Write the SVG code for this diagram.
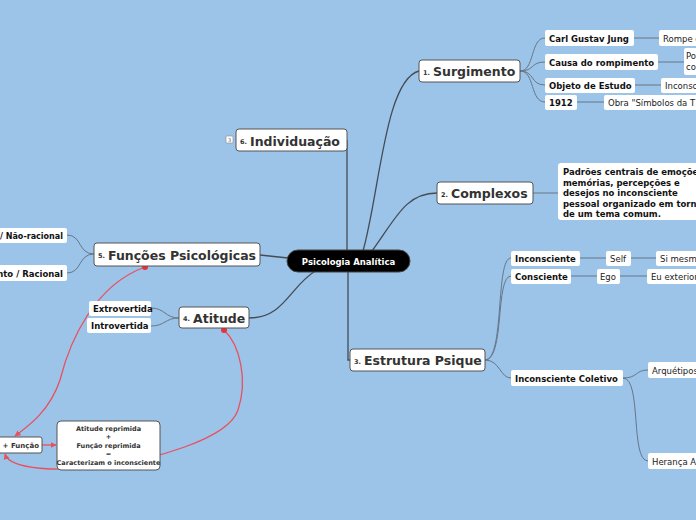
<svg xmlns="http://www.w3.org/2000/svg" width="696" height="520" viewBox="0 0 696 520">
<defs>
<style>
.bg{fill:#9cc3e8}
.main rect{fill:#fff;stroke:#555;stroke-width:1}
.num{font-family:"DejaVu Sans",sans-serif;font-size:6.5px;font-weight:bold;fill:#333}
.mt{font-family:"DejaVu Sans",sans-serif;font-size:12.5px;font-weight:bold;fill:#333}
.sub rect{fill:#fff}
.st{font-family:"DejaVu Sans",sans-serif;font-size:8.5px;font-weight:bold;fill:#111}
.nt{font-family:"DejaVu Sans",sans-serif;font-size:8.5px;fill:#222}
.c{fill:none;stroke:#667788;stroke-width:1}
.cc{fill:none;stroke:#444c55;stroke-width:1.3}
.r{fill:none;stroke:#e9505e;stroke-width:1.3}
.bt{font-family:"DejaVu Sans",sans-serif;font-size:6.5px;font-weight:bold;fill:#333;text-anchor:middle}
</style>
<marker id="ar" viewBox="0 0 10 10" refX="9" refY="5" markerWidth="6" markerHeight="6" orient="auto-start-reverse" markerUnits="userSpaceOnUse">
<path d="M0,0L10,5L0,10z" fill="#e9505e"/>
</marker>
</defs>
<rect class="bg" x="0" y="0" width="696" height="520"/>

<g id="connectors">
<path class="cc" d="M363,251 C380,190 385,80 419,71"/>
<path class="cc" d="M372,251 C395,220 405,193 437,193"/>
<path class="cc" d="M348,272 L348,360 L350,360"/>
<path class="cc" d="M347,251 L347,140"/>
<path class="cc" d="M260,255 L288,258"/>
<path class="cc" d="M317,270 C290,285 285,318 249,318"/>
<path class="c" d="M520,71 C535,71 530,38 545,38"/>
<path class="c" d="M520,71 C535,71 530,62 545,62"/>
<path class="c" d="M520,71 C535,71 530,85 545,85"/>
<path class="c" d="M520,71 C535,71 530,102 545,102"/>
<path class="c" d="M634,38 L659,38"/>
<path class="c" d="M658,62 L684,62"/>
<path class="c" d="M635,85 L661,85"/>
<path class="c" d="M577,102 L604,102"/>
<path class="c" d="M533,193 L558,193"/>
<path class="c" d="M485,360 C505,360 495,258 511,258"/>
<path class="c" d="M485,360 C505,360 495,276 511,276"/>
<path class="c" d="M485,360 C500,360 500,378 511,378"/>
<path class="c" d="M580,258 L606,258"/>
<path class="c" d="M631,258 L656,258"/>
<path class="c" d="M571,276 L597,276"/>
<path class="c" d="M620,276 L647,276"/>
<path class="c" d="M623,378 C638,378 635,370 648,370"/>
<path class="c" d="M623,378 C642,378 630,461 648,461"/>
<path class="c" d="M94,254 C78,254 82,235 67,235"/>
<path class="c" d="M94,254 C78,254 82,273 67,273"/>
<path class="c" d="M179,318 C165,318 165,308 151,308"/>
<path class="c" d="M179,318 C165,318 165,326 151,326"/>
<path class="r" d="M145,267 C95,285 70,340 60,380 C50,410 30,425 15,436" marker-end="url(#ar)"/>
<path class="r" d="M224,330 C240,345 248,380 238,410 C228,440 150,460 105,466 C60,472 10,470 5,454" marker-end="url(#ar)"/>
<path class="r" d="M42,445 L56,445" stroke-width="2" marker-end="url(#ar)"/>
<circle cx="145" cy="267" r="3" fill="#e9303e"/>
<circle cx="224" cy="330" r="3" fill="#e9303e"/>
</g>

<g id="center">
<rect x="287" y="250" width="123" height="22" rx="11" fill="#000" stroke="#444" stroke-width="1"/>
<text x="348.5" y="265" text-anchor="middle" font-family="DejaVu Sans, sans-serif" font-size="8.5" font-weight="bold" fill="#fff">Psicologia Analítica</text>
</g>

<g id="n1" class="main"><rect x="419" y="60" width="101" height="22" rx="3"/><text class="num" x="423" y="75">1.</text><text class="mt" x="433" y="76">Surgimento</text></g>
<g id="n2" class="main"><rect x="437" y="182" width="96" height="22" rx="3"/><text class="num" x="441" y="197">2.</text><text class="mt" x="451" y="198">Complexos</text></g>
<g id="n3" class="main"><rect x="350" y="349" width="135" height="22" rx="3"/><text class="num" x="354" y="364">3.</text><text class="mt" x="364" y="365">Estrutura Psique</text></g>
<g id="n4" class="main"><rect x="179" y="307" width="70" height="21" rx="3"/><text class="num" x="183" y="321">4.</text><text class="mt" x="193" y="323">Atitude</text></g>
<g id="n5" class="main"><rect x="94" y="243" width="166" height="23" rx="3"/><text class="num" x="98" y="258">5.</text><text class="mt" x="108" y="260">Funções Psicológicas</text></g>
<g id="n6" class="main"><rect x="236" y="129" width="111" height="22" rx="3"/><text class="num" x="240" y="144">6.</text><text class="mt" x="250" y="146">Individuação</text></g>
<g id="n6b"><rect x="226" y="136" width="7" height="7" rx="1" fill="#fff" stroke="#888" stroke-width="0.6"/><text x="229.5" y="141.5" text-anchor="middle" font-family="DejaVu Sans, sans-serif" font-size="5" fill="#666">3</text></g>

<g id="s1" class="sub"><rect x="545" y="30" width="89" height="16" rx="2"/><text class="st" x="549" y="41.5">Carl Gustav Jung</text></g>
<g id="s2" class="sub"><rect x="545" y="54" width="113" height="16" rx="2"/><text class="st" x="549" y="65.5">Causa do rompimento</text></g>
<g id="s3" class="sub"><rect x="545" y="78" width="90" height="15" rx="2"/><text class="st" x="549" y="89">Objeto de Estudo</text></g>
<g id="s4" class="sub"><rect x="545" y="95" width="32" height="15" rx="2"/><text class="st" x="549" y="106">1912</text></g>
<g id="g1" class="sub"><rect x="659" y="30" width="50" height="16" rx="2"/><text class="nt" x="663" y="41.5">Rompe c</text></g>
<g id="g2" class="sub"><rect x="684" y="48" width="30" height="27" rx="2"/><text class="nt" x="686" y="59">Po</text><text class="nt" x="686" y="70">co</text></g>
<g id="g3" class="sub"><rect x="661" y="78" width="50" height="15" rx="2"/><text class="nt" x="665" y="89">Inconsc</text></g>
<g id="g4" class="sub"><rect x="604" y="95" width="110" height="15" rx="2"/><text class="nt" x="608" y="106">Obra "Símbolos da T</text></g>
<g id="cx" class="sub"><rect x="558" y="163" width="150" height="57" rx="3"/>
<text class="st" x="563" y="175">Padrões centrais de emoções,</text>
<text class="st" x="563" y="185.5">memórias, percepções e</text>
<text class="st" x="563" y="196">desejos no inconsciente</text>
<text class="st" x="563" y="206.5">pessoal organizado em torno</text>
<text class="st" x="563" y="217">de um tema comum.</text></g>
<g id="e1" class="sub"><rect x="511" y="251" width="69" height="15" rx="2"/><text class="st" x="515" y="262">Inconsciente</text></g>
<g id="e2" class="sub"><rect x="511" y="269" width="60" height="15" rx="2"/><text class="st" x="515" y="280">Consciente</text></g>
<g id="e3" class="sub"><rect x="511" y="370" width="112" height="16" rx="2"/><text class="st" x="515" y="381.5">Inconsciente Coletivo</text></g>
<g id="e4" class="sub"><rect x="606" y="251" width="25" height="15" rx="2"/><text class="nt" x="610" y="262">Self</text></g>
<g id="e5" class="sub"><rect x="597" y="269" width="23" height="15" rx="2"/><text class="nt" x="600" y="280">Ego</text></g>
<g id="e6" class="sub"><rect x="656" y="251" width="60" height="15" rx="2"/><text class="nt" x="660" y="262">Si mesmo</text></g>
<g id="e7" class="sub"><rect x="647" y="269" width="70" height="15" rx="2"/><text class="nt" x="651" y="280">Eu exterior</text></g>
<g id="e8" class="sub"><rect x="648" y="362" width="60" height="16" rx="2"/><text class="nt" x="652" y="373.5">Arquétipos</text></g>
<g id="e9" class="sub"><rect x="648" y="453" width="60" height="16" rx="2"/><text class="nt" x="652" y="464.5">Herança A</text></g>
<g id="f1" class="sub"><rect x="-10" y="228" width="77" height="15" rx="2"/><text class="st" x="0" y="239" textLength="63" lengthAdjust="spacingAndGlyphs">/ Não-racional</text></g>
<g id="f2" class="sub"><rect x="-10" y="265" width="77" height="16" rx="2"/><text class="st" x="63" y="276.5" text-anchor="end">nto / Racional</text></g>
<g id="a1" class="sub"><rect x="89" y="301" width="62" height="15" rx="2"/><text class="st" x="93" y="312">Extrovertida</text></g>
<g id="a2" class="sub"><rect x="87" y="318" width="64" height="15" rx="2"/><text class="st" x="91" y="329">Introvertida</text></g>
<g id="af"><rect x="-10" y="437" width="52" height="16" rx="2" fill="#fff" stroke="#555" stroke-width="1"/><text x="39" y="448" text-anchor="end" font-family="DejaVu Sans, sans-serif" font-size="7" font-weight="bold" fill="#333">+ Função</text></g>
<g id="box"><rect x="57" y="421" width="103" height="49" rx="4" fill="#fff" stroke="#555" stroke-width="1"/>
<text class="bt" x="108.5" y="430.5">Atitude reprimida</text>
<text class="bt" x="108.5" y="439">+</text>
<text class="bt" x="108.5" y="447.5">Função reprimida</text>
<text class="bt" x="108.5" y="456">=</text>
<text class="bt" x="108.5" y="464.5">Caracterizam o inconsciente</text></g>
</svg>
